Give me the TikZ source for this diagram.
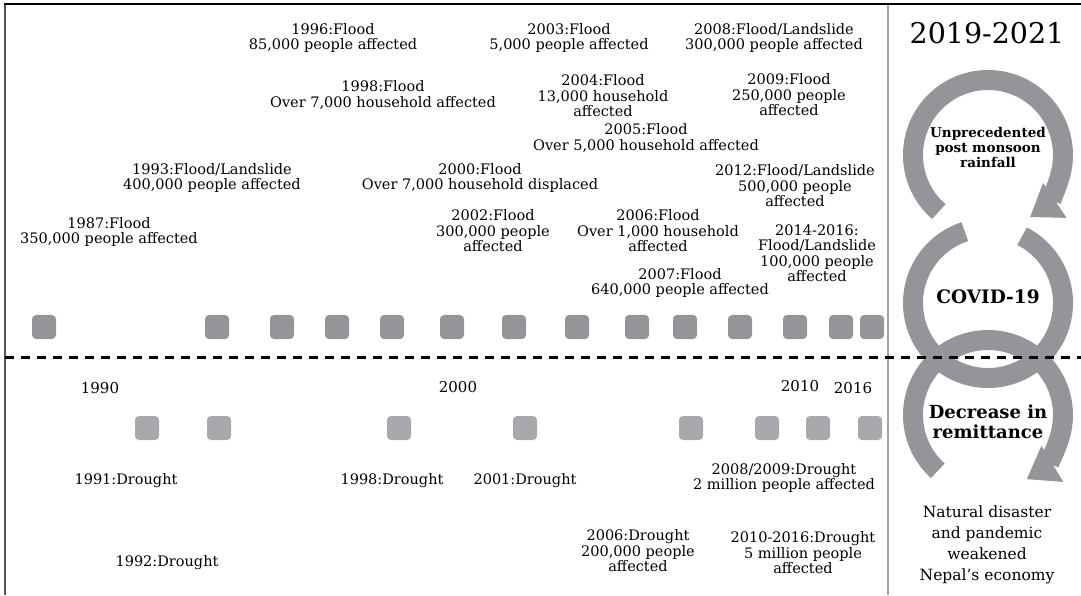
\documentclass[tikz,border=0pt]{standalone}
\usepackage{fontspec}
\setmainfont{DejaVu Serif}
\usepackage{tikz}
\usetikzlibrary{arrows.meta}
\definecolor{boxdark}{HTML}{939598}
\definecolor{boxlight}{HTML}{A7A9AC}
\definecolor{divgrey}{HTML}{A3A3A3}
\definecolor{edgegrey}{HTML}{555555}
\newcommand{\evtfont}{\fontsize{14.5}{15.5}\selectfont}
\tikzstyle{flood}=[rectangle, fill=boxdark, rounded corners=4pt,% top row
minimum size=24pt, inner sep=0pt]
\tikzstyle{drought}=[rectangle, fill=boxlight, rounded corners=4pt,% bottom row
minimum size=24pt, inner sep=0pt]
\tikzstyle{evt}=[align=center, inner sep=0pt, font=\evtfont]
\tikzstyle{ring}=[draw=boxdark, line width=20pt]
\tikzstyle{ringarrow}=[ring, -{Triangle[width=40pt,length=30pt]}]

\begin{document}
\begin{tikzpicture}[x=1pt,y=1pt]
\useasboundingbox (0,0) rectangle (1081,595);
% frame
\draw[divgrey, line width=1.5pt] (888,591) -- (888,0);
\draw[edgegrey, line width=2pt] (5,592) -- (5,0);
\draw[black, line width=1.5pt] (4,591) -- (1081,591);

% flood events
\node[flood] (f1) at (44,268) {};
\node[flood] (f2) at (217,268) {};
\node[flood] (f3) at (282,268) {};
\node[flood] (f4) at (337,268) {};
\node[flood] (f5) at (392,268) {};
\node[flood] (f6) at (452,268) {};
\node[flood] (f7) at (514,268) {};
\node[flood] (f8) at (577,268) {};
\node[flood] (f9) at (637,268) {};
\node[flood] (f10) at (685,268) {};
\node[flood] (f11) at (740,268) {};
\node[flood] (f12) at (795,268) {};
\node[flood] (f13) at (841,268) {};
\node[flood] (f14) at (872,268) {};

\node[evt] (l87) at (109,363) {1987:Flood\\350,000 people affected};
\node[evt] (l93) at (212,417) {1993:Flood/Landslide\\400,000 people affected};
\node[evt] (l96) at (333,557) {1996:Flood\\85,000 people affected};
\node[evt] (l98) at (383,500) {1998:Flood\\Over 7,000 household affected};
\node[evt] (l00) at (480,417) {2000:Flood\\Over 7,000 household displaced};
\node[evt] (l02) at (493,364) {2002:Flood\\300,000 people\\affected};
\node[evt] (l03) at (569,557) {2003:Flood\\5,000 people affected};
\node[evt] (l04) at (603,499) {2004:Flood\\13,000 household\\affected};
\node[evt] (l05) at (646,457) {2005:Flood\\Over 5,000 household affected};
\node[evt] (l06) at (658,364) {2006:Flood\\Over 1,000 household\\affected};
\node[evt] (l07) at (680,312) {2007:Flood\\640,000 people affected};
\node[evt] (l08) at (774,557) {2008:Flood/Landslide\\300,000 people affected};
\node[evt] (l09) at (789,500) {2009:Flood\\250,000 people\\affected};
\node[evt] (l12) at (795,409) {2012:Flood/Landslide\\500,000 people\\affected};
\node[evt] (l14) at (817,342) {2014-2016:\\Flood/Landslide\\100,000 people\\affected};

% drought events
\node[drought] (d1) at (147,167) {};
\node[drought] (d2) at (219,167) {};
\node[drought] (d3) at (399,167) {};
\node[drought] (d4) at (525,167) {};
\node[drought] (d5) at (691,167) {};
\node[drought] (d6) at (767,167) {};
\node[drought] (d7) at (818,167) {};
\node[drought] (d8) at (870,167) {};

\node[evt, font=\fontsize{15}{16}\selectfont] (y90) at (100,207) {1990};
\node[evt, font=\fontsize{15}{16}\selectfont] (y00) at (458,208) {2000};
\node[evt, font=\fontsize{15}{16}\selectfont] (y10) at (800,209) {2010};
\node[evt, font=\fontsize{15}{16}\selectfont] (y16) at (853,207) {2016};

\node[evt] (g91) at (126,114) {1991:Drought};
\node[evt] (g92) at (167,32) {1992:Drought};
\node[evt] (g98) at (392,114) {1998:Drought};
\node[evt] (g01) at (525,114) {2001:Drought};
\node[evt] (g06) at (638,44) {2006:Drought\\200,000 people\\affected};
\node[evt] (g08) at (784,117) {2008/2009:Drought\\2 million people affected};
\node[evt] (g10) at (803,42) {2010-2016:Drought\\5 million people\\affected};

% 2019-2021 panel
\node[inner sep=0pt, font=\fontsize{28.5}{30}\selectfont] (span) at (987,562) {2019-2021};
\coordinate (c1) at (988,440);
\coordinate (c2) at (988,292);
\coordinate (c3) at (988,180);
\draw[ringarrow] ([shift={(229:75pt)}]c1) arc[start angle=229, end angle=-56, radius=75pt];
\draw[ring] ([shift={(108:75pt)}]c2) arc[start angle=108, end angle=423, radius=75pt];
\draw[ringarrow] ([shift={(228:75pt)}]c3) arc[start angle=228, end angle=-59, radius=75pt];
\node[align=center, inner sep=0pt, font=\bfseries\fontsize{13.5}{15}\selectfont] (rain) at (988,448) {Unprecedented\\post monsoon\\rainfall};
\node[inner sep=0pt, font=\bfseries\fontsize{18.5}{20}\selectfont] (covid) at (988,298) {COVID-19};
\node[align=center, inner sep=0pt, font=\bfseries\fontsize{18}{20}\selectfont] (remit) at (988,173) {Decrease in\\remittance};
\node[align=center, inner sep=0pt, font=\fontsize{15.5}{21}\selectfont] (econ) at (987,50) {Natural disaster\\and pandemic\\weakened\\Nepal’s economy};

\draw[black, line width=3pt, dash pattern=on 9pt off 7pt] (5,238) -- (1081,238);
\end{tikzpicture}
\end{document}
